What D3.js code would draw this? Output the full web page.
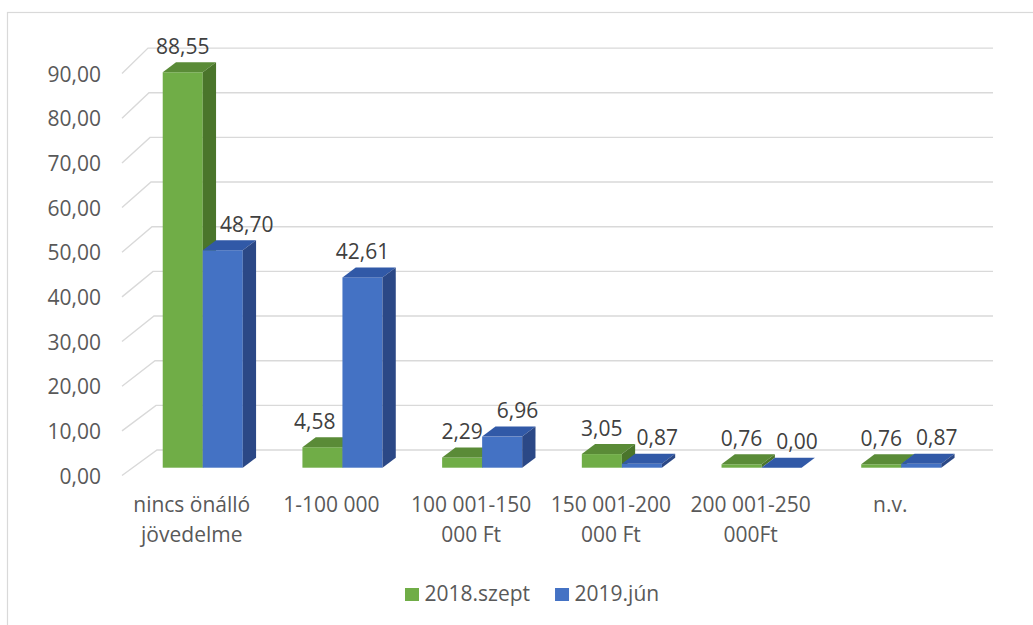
<!DOCTYPE html>
<html>
<head>
<meta charset="utf-8">
<script src="https://cdn.jsdelivr.net/npm/d3@7"></script>
<style>
  html, body { margin: 0; padding: 0; background: #ffffff; }
  svg { display: block; font-family: "Open Sans", "DejaVu Sans", sans-serif; }
</style>
</head>
<body>
<svg id="chart" width="1033" height="625"></svg>
<script>
// Income bands (category axis), one label line per array entry
const categories = [
  ["nincs önálló", "jövedelme"],
  ["1-100 000"],
  ["100 001-150", "000 Ft"],
  ["150 001-200", "000 Ft"],
  ["200 001-250", "000Ft"],
  ["n.v."]
];
const seriesNames = ["2018.szept", "2019.jún"];
const values2018 = [88.55, 4.58, 2.29, 3.05, 0.76, 0.76];
const values2019 = [48.70, 42.61, 6.96, 0.87, 0.00, 0.87];
const yTicks = [0, 10, 20, 30, 40, 50, 60, 70, 80, 90];

const W = 1033, H = 625;
const svg = d3.select("#chart");

const locale = d3.formatLocale({ decimal: ",", thousands: " ", grouping: [3], currency: ["", ""] });
const fmt = locale.format(".2f");

const catKeys = categories.map(c => c.join(" "));
const series = [
  { name: seriesNames[0], values: values2018, front: "#70ad47", top: "#5a8b37", side: "#4a752b" },
  { name: seriesNames[1], values: values2019, front: "#4472c4", top: "#3159a7", side: "#2b4886" }
];

// Front plane scales
const x0 = d3.scaleBand().domain(catKeys).range([132.9, 971.1])
  .paddingInner(0.427).paddingOuter(0.2135);
const x1 = d3.scaleBand().domain(seriesNames).range([0, x0.bandwidth()]).padding(0);
const y = d3.scaleLinear().domain([0, 90]).range([467.7, 65.8]);

// 3D offsets
const DX = 13.3, DY = -10;          // bar depth
const WALL_DY = -17.7;              // back wall relative to bar fronts
const FLOOR_DY = 7.8;               // front edge of the floor
const floorFrontX = 122, wallRight = 993;
const wallLeft = v => 157 - v / 10; // slight perspective on the side wall

// Chart-area frame
svg.append("rect")
  .attr("x", 7.5).attr("y", 12.5).attr("width", W + 20).attr("height", H + 20)
  .attr("fill", "none").attr("stroke", "#d9d9d9").attr("stroke-width", 1.2);

// Gridlines: side-wall diagonal + back-wall horizontal
const grid = svg.append("g").attr("stroke", "#d9d9d9").attr("stroke-width", 1.4).attr("fill", "none");
grid.selectAll("path").data(yTicks).join("path")
  .attr("d", v => `M${floorFrontX},${y(v) + FLOOR_DY}L${wallLeft(v)},${y(v) + WALL_DY}L${wallRight},${y(v) + WALL_DY}`);

// Y axis labels
const yAxis = svg.append("g")
  .attr("transform", `translate(101,${FLOOR_DY + 1})`)
  .call(d3.axisLeft(y).tickValues(yTicks).tickFormat(fmt).tickSize(0).tickPadding(0));
yAxis.select(".domain").remove();
yAxis.selectAll("text").attr("font-size", 21).attr("fill", "#595959")
  .attr("font-family", "'Open Sans', sans-serif");

// Bars
const barW = x1.bandwidth();
function drawBar(g, x, v, s) {
  const yt = y(v), yb = y(0);
  g.append("rect").attr("x", x).attr("y", yt).attr("width", barW).attr("height", yb - yt)
    .attr("fill", s.front);
  g.append("path")
    .attr("d", `M${x},${yt}L${x + DX},${yt + DY}L${x + barW + DX},${yt + DY}L${x + barW},${yt}Z`)
    .attr("fill", s.top);
  g.append("path")
    .attr("d", `M${x + barW},${yt}L${x + barW + DX},${yt + DY}L${x + barW + DX},${yb + DY}L${x + barW},${yb}Z`)
    .attr("fill", s.side);
}
const bars = svg.append("g");
catKeys.forEach((k, i) => {
  series.forEach(s => drawBar(bars, x0(k) + x1(s.name), s.values[i], s));
});

// Value labels, nudged off neighbouring bars and each other
const labels = svg.append("g").attr("font-size", 21).attr("fill", "#404040").attr("text-anchor", "middle");
catKeys.forEach((k, i) => {
  const gx = x0(k) + x1(series[0].name), bx = x0(k) + x1(series[1].name);
  const gv = series[0].values[i], bv = series[1].values[i];
  const gy = y(gv) - 18.5, by = y(bv) - 18.5;
  const gt = labels.append("text").attr("y", gy).text(fmt(gv));
  const bt = labels.append("text").attr("y", by).text(fmt(bv));
  const gw = gt.node().getComputedTextLength(), bw = bt.node().getComputedTextLength();
  let gc = gx + barW / 2, bc = bx + barW / 2;
  // green label clear of a taller blue bar
  if (gc + gw / 2 > bx && y(bv) < gy - 5) gc = bx - 7 - gw / 2;
  // blue label clear of a taller green bar (incl. its side face)
  const gRight = gx + barW + DX;
  if (bc - bw / 2 < gRight && y(gv) < by - 5) bc = gRight + 4 + bw / 2;
  // labels clear of each other
  if (Math.abs(gy - by) < 21 && bc - bw / 2 < gc + gw / 2 + 13) bc = gc + gw / 2 + 14 + bw / 2;
  gt.attr("x", gc);
  bt.attr("x", bc);
});

// Category labels
const xAxis = svg.append("g")
  .attr("transform", `translate(-11,${y(0)})`)
  .call(d3.axisBottom(x0).tickSize(0).tickFormat(() => ""));
xAxis.select(".domain").remove();
xAxis.selectAll(".tick text").each(function(d, i) {
  const t = d3.select(this).attr("y", 0).attr("dy", null)
    .attr("font-size", 21).attr("fill", "#595959").attr("font-family", "'Open Sans', sans-serif");
  categories[i].forEach((line, j) => {
    t.append("tspan").attr("x", 0).attr("y", 44 + j * 30.5).text(line);
  });
});

// Legend
const legend = svg.append("g").attr("font-size", 21).attr("fill", "#595959");
let lx = 405;
series.forEach(s => {
  legend.append("rect").attr("x", lx).attr("y", 588).attr("width", 14).attr("height", 13).attr("fill", s.front);
  const t = legend.append("text").attr("x", lx + 19.5).attr("y", 600.7).text(s.name);
  lx += 19.5 + t.node().getComputedTextLength() + 25;
});
</script>
</body>
</html>
